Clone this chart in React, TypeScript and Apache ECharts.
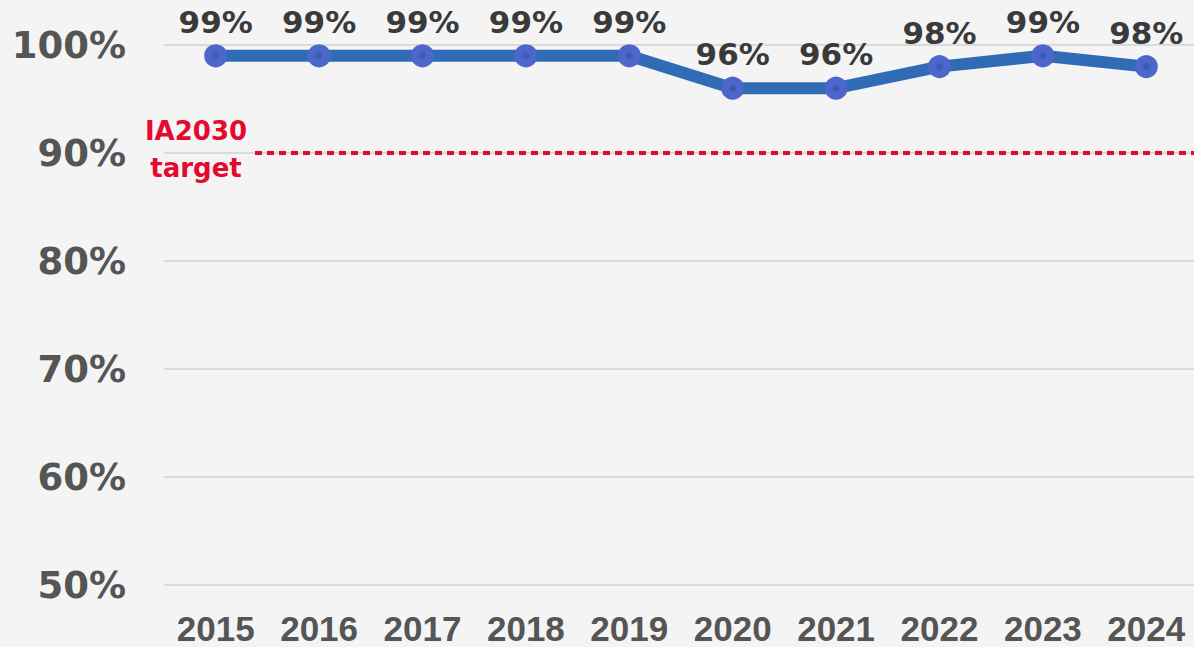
import React, { useEffect, useRef } from "react";
import * as echarts from "echarts";

const years = ["2015", "2016", "2017", "2018", "2019", "2020", "2021", "2022", "2023", "2024"];
const coverage = [99, 99, 99, 99, 99, 96, 96, 98, 99, 98];
const targetValue = 90;
const targetLabel = "IA2030\ntarget";

export default function App() {
  const ref = useRef<HTMLDivElement>(null);
  useEffect(() => {
    const chart = echarts.init(ref.current!, null, { renderer: "svg" });
    chart.setOption({
      animation: false,
      backgroundColor: "#f4f4f4",
      grid: { left: 164, right: 0, top: 45, bottom: 62, containLabel: false },
      xAxis: {
        type: "category",
        data: years,
        boundaryGap: true,
        axisLine: { show: false },
        axisTick: { show: false },
        axisLabel: {
          color: "#555555",
          fontFamily: "Liberation Sans",
          fontWeight: "bold",
          fontSize: 35,
          lineHeight: 35,
          margin: 26,
        },
      },
      yAxis: {
        type: "value",
        min: 50,
        max: 100,
        interval: 10,
        axisLine: { show: false },
        axisTick: { show: false },
        splitLine: { lineStyle: { color: "#dadada", width: 2 } },
        axisLabel: {
          formatter: "{value}%",
          color: "#555555",
          fontFamily: "DejaVu Sans",
          fontWeight: "bold",
          fontSize: 37,
          margin: 38,
        },
      },
      series: [
        {
          type: "line",
          data: coverage,
          symbol: "circle",
          symbolSize: 15,
          lineStyle: { color: "#2f6cb5", width: 12 },
          itemStyle: { color: "#3a5cb6", borderColor: "#4c66ca", borderWidth: 8 },
          label: {
            show: true,
            position: "top",
            distance: 7,
            formatter: "{c}%",
            color: "#3a3a3a",
            fontFamily: "DejaVu Sans",
            fontWeight: "bold",
            fontSize: 31,
          },
          markLine: {
            silent: true,
            symbol: "none",
            label: { show: false },
            lineStyle: { color: "#e3092f", width: 4, type: [7, 5] },
            data: [[{ x: 255, yAxis: targetValue }, { x: 1198, yAxis: targetValue }]],
          },
        },
      ],
      graphic: [
        {
          type: "text",
          x: 196,
          y: 149,
          style: {
            text: targetLabel,
            fill: "#e3092f",
            fontFamily: "DejaVu Sans",
            fontWeight: "bold",
            fontSize: 26,
            lineHeight: 37,
            align: "center",
            verticalAlign: "middle",
          },
        },
      ],
    });
    return () => chart.dispose();
  }, []);
  return <div ref={ref} style={{ width: 1198, height: 647, position: "fixed", left: 0, top: 0 }} />;
}
